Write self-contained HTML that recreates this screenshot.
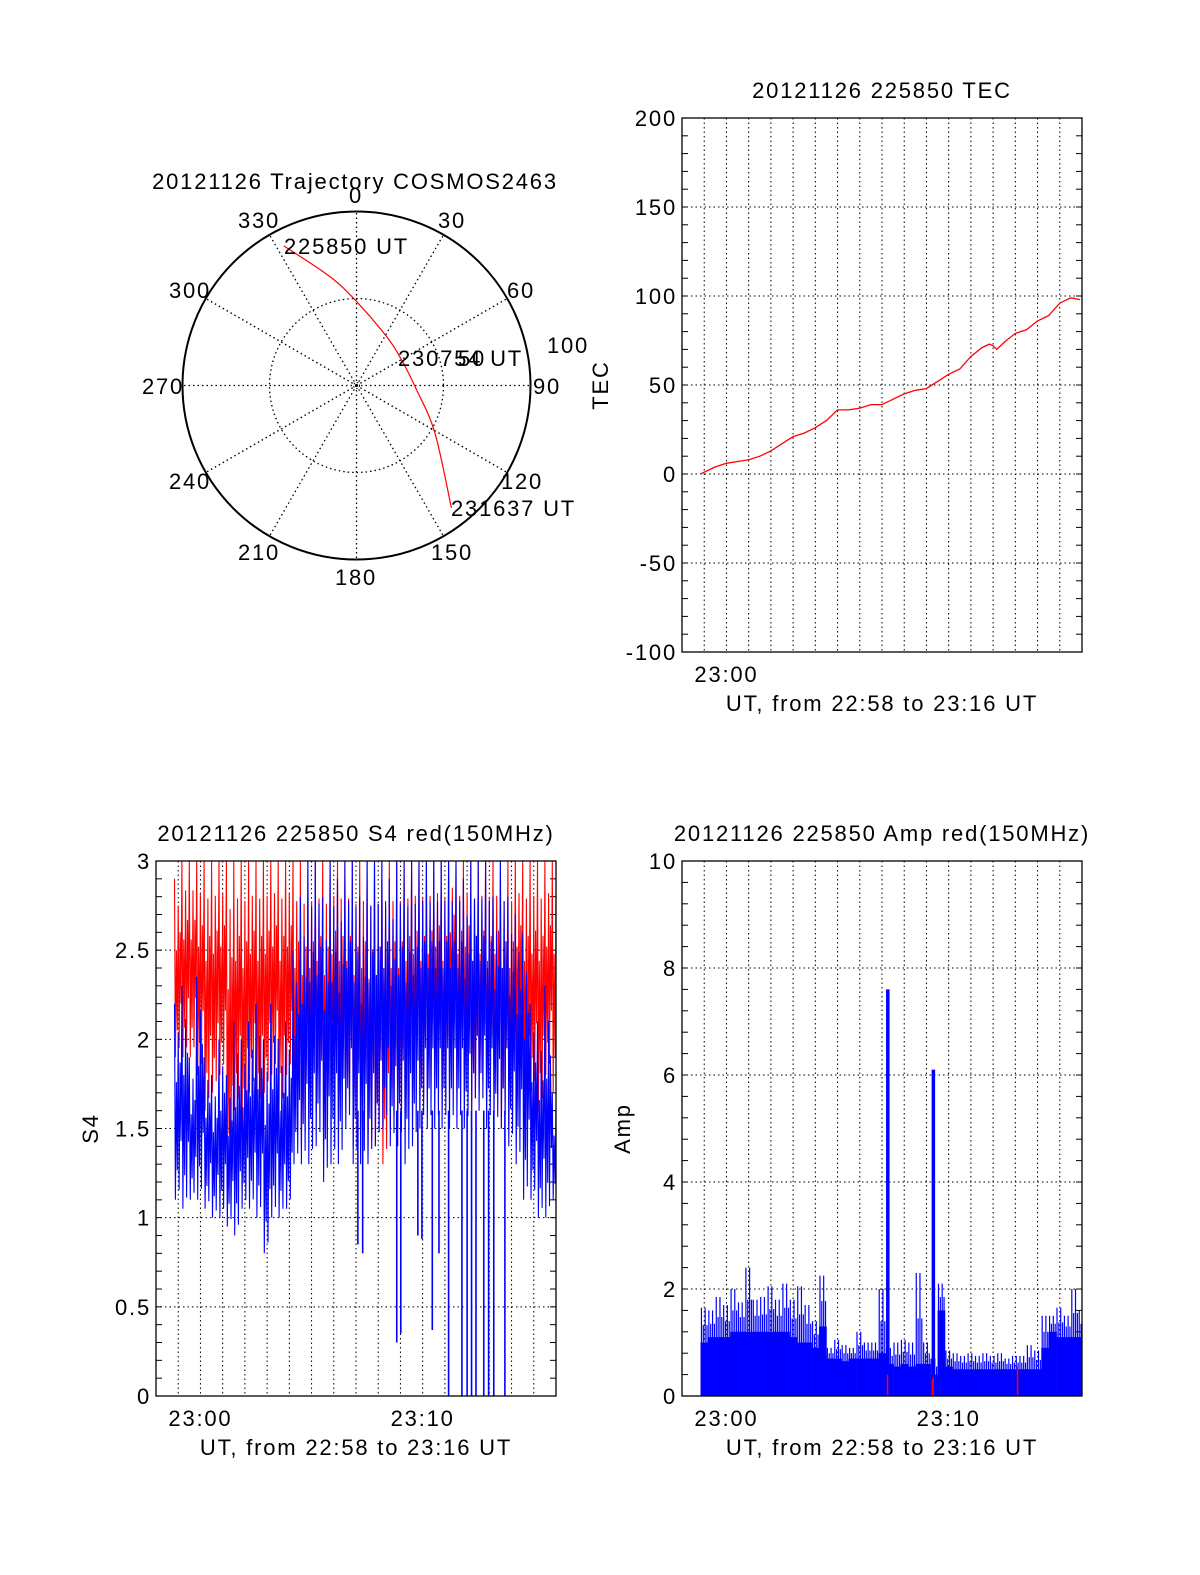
<!DOCTYPE html>
<html><head><meta charset="utf-8"><title>COSMOS2463 20121126</title>
<style>
html,body{margin:0;padding:0;background:#fff;overflow:hidden;}
svg{display:block;font-family:"Liberation Sans",Arial,sans-serif;}
svg text{letter-spacing:1.8px;}
</style></head>
<body>
<svg id="fig" width="1200" height="1575" viewBox="0 0 1200 1575" xmlns="http://www.w3.org/2000/svg">
<rect x="0" y="0" width="1200" height="1575" fill="#fff"/>
</svg>
<script>
// ---------- DATA ----------
const trajAz = [332.5, 346.2, 0, 31.5, 60.3, 94.1, 121.1, 142.2];
const trajR  = [90.5, 64.5, 48.3, 33, 29.8, 34.6, 52.6, 89];
const polarAngleLabels = ['0','30','60','90','120','150','180','210','240','270','300','330'];
const polarRadiusLabels = ['50','100'];

// TEC (seconds after 22:58:00)
const tecT = [50,60,90,120,150,180,210,240,270,300,330,360,390,420,450,480,510,540,570,600,630,660,690,720,750,780,810,830,840,850,870,900,930,960,990,1020,1050,1075];
const tecV = [0,1,4,6,7,8,10,13,17,21,23,26,30,36,36,37,39,39,42,45,47,48,52,56,59,66,71,73,72,70,74,79,81,86,89,96,99,98];
const tecTicks = ['200','150','100','50','0','-50','-100'];

// S4: 20 s bins starting 22:58:50
const s4BinStart = 50;
const s4BinLen = 20;
const s4RedLo = [1.9,1.9,1.9,1.8,1.6,1.7,1.8,1.2,1.6,1.5,1.7,1.6,1.7,1.8,1.6,1.8,1.5,1.4,1.5,1.6,1.4,1.7,1.6,1.6,1.4,1.5,1.35,1.4,1.3,1.5,1.5,1.6,1.7,1.6,1.7,1.8,1.6,2.0,1.7,1.8,1.6,1.7,1.6,1.7,1.5,1.5,1.8,1.6,1.7,1.6,1.8,1.7];
const s4RedHi = [2.9,3,3,3,3,3,3,3,3,3,3,3,3,3,3,3,3,3,3,3,3,3,3,3,3,3,3,3,3,3,3,3,3,3,3,3,3,3,3,3,3,3,3,3,3,3,3,3,3,3,3,3];
const s4BlueLo = [1.1,1.05,1.1,1.1,1.05,1.0,1.0,0.95,0.9,1.05,1.05,1.0,0.8,1.0,1.0,1.05,1.3,1.3,1.3,1.4,1.2,1.3,1.3,1.5,1.3,1.3,1.3,1.4,1.5,1.4,1.4,1.3,1.4,1.5,1.5,1.5,1.5,1.5,1.5,1.5,1.6,1.6,1.5,1.5,1.5,1.4,1.3,1.1,1.1,1.0,1.0,1.1];
const s4BlueHi = [2.2,2.3,1.9,2.35,1.9,1.8,2.0,1.8,2.1,2.0,2.1,2.2,2.0,2.2,2.0,2.1,2.5,2.8,3,3,2.8,3,2.9,3,3,2.8,3,3,3,2.9,3,3,3,3,3,3,3,3,3,2.9,3,3,3,2.8,3,2.8,2.7,2.6,2.2,2.1,2.3,1.7];
const s4DipT = [545,558,650,661,707,718,746,764,790,826,840,852,864,885,898,912,942];
const s4DipV = [0.85,0.8,0.3,0.35,0.9,0.88,0.37,0.8,0,0,0,0,0,0,0,0,0];
const s4Ticks = ['3','2.5','2','1.5','1','0.5','0'];

// Amp: 20 s bins starting 22:58:50
const ampLo = [1.0,1.1,1.1,1.1,1.2,1.2,1.2,1.2,1.2,1.2,1.2,1.2,1.1,1.0,1.0,0.9,1.3,0.7,0.7,0.65,0.7,0.7,0.7,0.7,0.8,0.6,0.55,0.6,0.55,0.6,0.6,0.4,1.6,0.55,0.5,0.5,0.5,0.5,0.5,0.5,0.5,0.5,0.5,0.5,0.5,0.5,0.9,1.2,1.1,1.1,1.1,1.1];
const ampHi = [1.65,1.6,1.85,1.7,2.0,1.75,2.4,1.8,1.85,2.05,1.8,2.1,1.8,2.05,1.7,1.4,2.25,0.9,1.05,0.95,0.9,1.2,1.0,1.0,2.0,0.9,1.0,1.05,1.0,2.3,1.0,0.7,2.1,0.85,0.8,0.75,0.8,0.75,0.8,0.75,0.8,0.7,0.75,0.75,0.95,0.85,1.5,1.5,1.65,1.5,2.0,1.6];
const ampSpikeT = [555, 678];
const ampSpikeV = [7.6, 6.1];
const ampRedT = [555, 676, 678, 906];
const ampRedV = [0.4, 0.3, 0.35, 0.55];
const ampTicks = ['10','8','6','4','2','0'];

// ---------- DRAWING ----------
const NS = 'http://www.w3.org/2000/svg';
const svg = document.getElementById('fig');
function mk(tag, attrs, parent){
  const e = document.createElementNS(NS, tag);
  for (const k in attrs) e.setAttribute(k, attrs[k]);
  (parent || svg).appendChild(e);
  return e;
}
function txt(str, x, y, anchor, parent){
  const e = mk('text', {x:x, y:y, 'font-size':22, 'text-anchor':anchor||'middle', fill:'#000'}, parent);
  e.textContent = str;
  return e;
}

// ===== Polar =====
const pg = mk('g', {});


const cx = 356.5, cy = 385.5, R = 174;
function pxy(az, r){ const a = az*Math.PI/180; return [cx + r/100*R*Math.sin(a), cy - r/100*R*Math.cos(a)]; }
for (let i=0;i<12;i++){
  const [x2,y2] = pxy(i*30, 100);
  const sp = mk('line', {x1:cx, y1:cy, x2:x2, y2:y2, stroke:'#000', 'stroke-width':1.3, 'stroke-dasharray':'1.5 3'}, pg);
  
  
}
const inner = mk('circle', {cx:cx, cy:cy, r:R/2, fill:'none', stroke:'#000', 'stroke-width':1.3, 'stroke-dasharray':'1.5 3'}, pg);


const smallc = mk('circle', {cx:cx, cy:cy, r:3, fill:'none', stroke:'#000', 'stroke-width':1, 'stroke-dasharray':'1.5 2'}, pg);


const outer = mk('circle', {cx:cx, cy:cy, r:R, fill:'none', stroke:'#000', 'stroke-width':2}, pg);


const lblPos = [[356,203],[452,228],[521,298],[547,394],[522,489],[452,560],[356,585],[259,560],[190,489],[163,394],[190,298],[259,228]];
polarAngleLabels.forEach((s,i)=>{
  const t = txt(s, lblPos[i][0], lblPos[i][1], 'middle', pg);
  
  
});
const rl100 = txt(polarRadiusLabels[1], 568, 353, 'middle', pg);


const rl50 = txt(polarRadiusLabels[0], 472, 366, 'middle', pg);


const ptitle = txt('20121126 Trajectory COSMOS2463', 355, 189, 'middle', pg);


const tpts = trajAz.map((a,i)=>pxy(a, trajR[i]));
let d = 'M'+tpts[0][0]+' '+tpts[0][1];
for (let i=1;i<tpts.length;i++){
  const p0 = tpts[Math.max(0,i-2)], p1 = tpts[i-1], p2 = tpts[i], p3 = tpts[Math.min(tpts.length-1,i+1)];
  const c1 = [p1[0]+(p2[0]-p0[0])/6, p1[1]+(p2[1]-p0[1])/6];
  const c2 = [p2[0]-(p3[0]-p1[0])/6, p2[1]-(p3[1]-p1[1])/6];
  d += ' C'+c1[0]+' '+c1[1]+' '+c2[0]+' '+c2[1]+' '+p2[0]+' '+p2[1];
}
const traj = mk('path', {d:d, fill:'none', stroke:'#f00', 'stroke-width':1.2}, pg);


const l1 = txt('225850 UT', 284, 254, 'start', pg);


const l2 = txt('230754 UT', 398, 366, 'start', pg);


const l3 = txt('231637 UT', 451, 516, 'start', pg);



// ===== generic axes =====
function axes(name, L, T, W, H, ymin, ymax, ticks, minorStep, title, ylabel, ylabelX, tickLabels10){
  const g = mk('g', {});
  
  
  const xs = t => L + t/1080*W;
  const ys = v => T + (ymax - v)/(ymax - ymin)*H;
  for (let m=1;m<18;m++){
    const gl = mk('line', {x1:xs(m*60), y1:T, x2:xs(m*60), y2:T+H, stroke:'#000', 'stroke-width':1, 'stroke-dasharray':'1.5 3'}, g);
    
    
  }
  ticks.forEach(s=>{
    const v = parseFloat(s);
    const y = ys(v);
    if (v>ymin && v<ymax){
      const hl = mk('line', {x1:L, y1:y, x2:L+W, y2:y, stroke:'#000', 'stroke-width':1, 'stroke-dasharray':'1.5 3'}, g);
      
      
    }
    const tl = txt(s, L-5, y+8, 'end', g);
    
    
  });
  for (let v=ymin; v<=ymax+1e-9; v+=minorStep){
    const y = ys(v);
    const a = mk('line', {x1:L, y1:y, x2:L+6, y2:y, stroke:'#000', 'stroke-width':1}, g);
    
    
    const b = mk('line', {x1:L+W-6, y1:y, x2:L+W, y2:y, stroke:'#000', 'stroke-width':1}, g);
    
    
  }
  const tt = txt(title, L+W/2, T-20, 'middle', g);
  
  
  const yl = mk('text', {x:ylabelX, y:T+H/2, 'font-size':22, 'text-anchor':'middle', transform:'rotate(-90 '+ylabelX+' '+(T+H/2)+')'}, g);
  yl.textContent = ylabel;
  
  
  tickLabels10.forEach(s=>{
    const mm = parseInt(s.split(':')[1]);
    const xl = txt(s, xs((mm+2)*60), T+H+30, 'middle', g);
    
    
  });
  const xt = txt('UT, from 22:58 to 23:16 UT', L+W/2, T+H+59, 'middle', g);
  
  
  return {g, xs, ys, L, T, W, H};
}
function frame(ax){
  const f = mk('rect', {x:ax.L, y:ax.T, width:ax.W, height:ax.H, fill:'none', stroke:'#000', 'stroke-width':1.3}, ax.g);
  
  
}

// ===== TEC =====
const tec = axes('tec-plot', 682, 118, 400, 534, -100, 200, tecTicks, 10, '20121126 225850 TEC', 'TEC', 608, ['23:00']);
let td = tecT.map((t,i)=>(i?'L':'M')+tec.xs(t).toFixed(1)+' '+tec.ys(tecV[i]).toFixed(1)).join(' ');
const tecLine = mk('path', {d:td, fill:'none', stroke:'#f00', 'stroke-width':1.3}, tec.g);


frame(tec);

// ===== S4 =====
const s4 = axes('s4-plot', 156, 861, 400, 535, 0, 3, s4Ticks, 0.1, '20121126 225850 S4 red(150MHz)', 'S4', 98, ['23:00','23:10']);
const zigFrac = [1, 0, 0.6, 0.15, 0.85, 0.05, 0.7, 0.3];
function zig(lo, hi, color, nm, ax){
  let p = '';
  const sub = zigFrac.length;
  lo.forEach((l,k)=>{
    for (let j=0;j<sub;j++){
      const t = s4BinStart + k*s4BinLen + j*s4BinLen/sub;
      if (t>1080) continue;
      const v = l + zigFrac[j]*(hi[k]-l);
      p += (p?'L':'M') + ax.xs(t).toFixed(1) + ' ' + ax.ys(Math.min(v,3)).toFixed(1) + ' ';
    }
  });
  const e = mk('path', {d:p, fill:'none', stroke:color, 'stroke-width':1.1}, ax.g);
  
  
}
zig(s4RedLo, s4RedHi, '#f00', 's4-red-series', s4);
zig(s4BlueLo, s4BlueHi, '#00f', 's4-blue-series', s4);
s4DipT.forEach((t,i)=>{
  const dl = mk('line', {x1:s4.xs(t), y1:s4.ys(1.6), x2:s4.xs(t), y2:s4.ys(s4DipV[i]), stroke:'#00f', 'stroke-width':1.6}, s4.g);
  
  
});
frame(s4);

// ===== Amp =====
const amp = axes('amp-plot', 682, 861, 400, 535, 0, 10, ampTicks, 0.4, '20121126 225850 Amp red(150MHz)', 'Amp', 630, ['23:00','23:10']);
ampLo.forEach((l,k)=>{
  const t0 = s4BinStart + k*s4BinLen;
  const t1 = Math.min(t0 + s4BinLen, 1080);
  const r = mk('rect', {x:amp.xs(t0), y:amp.ys(l), width:amp.xs(t1)-amp.xs(t0)+0.3, height:amp.ys(0)-amp.ys(l), fill:'#00f'}, amp.g);
  
  
  for (let j=0;j<4;j++){
    const t = t0 + (j+0.5)*s4BinLen/4;
    if (t>1080) continue;
    const v = (j%2===0) ? ampHi[k] : (l + ampHi[k])/2;
    const sl = mk('line', {x1:amp.xs(t), y1:amp.ys(0), x2:amp.xs(t), y2:amp.ys(v), stroke:'#00f', 'stroke-width':1.2}, amp.g);
    
    
  }
});
ampSpikeT.forEach((t,i)=>{
  const sp = mk('rect', {x:amp.xs(t)-1.5, y:amp.ys(ampSpikeV[i]), width:3.5, height:amp.ys(0)-amp.ys(ampSpikeV[i]), fill:'#00f'}, amp.g);
  
  
});
ampRedT.forEach((t,i)=>{
  const rr = mk('line', {x1:amp.xs(t), y1:amp.ys(0), x2:amp.xs(t), y2:amp.ys(ampRedV[i]), stroke:'#f00', 'stroke-width':1.5}, amp.g);
  
  
});
frame(amp);
</script>
</body></html>
